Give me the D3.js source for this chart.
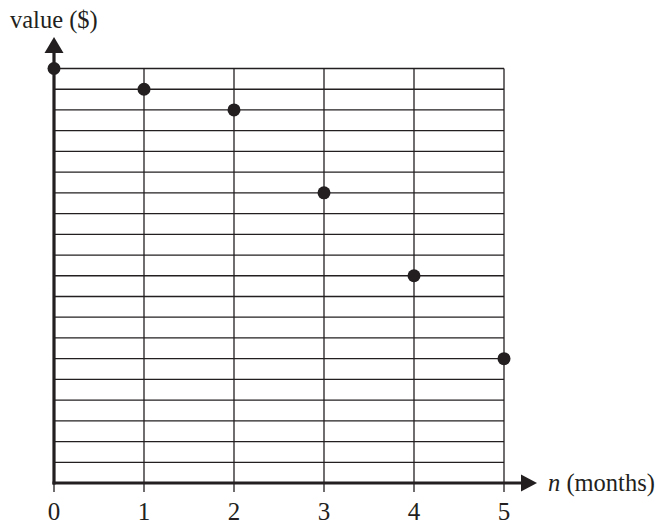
<!DOCTYPE html>
<html>
<head>
<meta charset="utf-8">
<script src="https://cdn.jsdelivr.net/npm/d3@7"></script>
<style>
    body { margin: 0; background: #fff; }
    text { font-family: "Liberation Serif", "Times New Roman", serif; fill: #231f20; }
</style>
</head>
<body>
<div id="chart"></div>
<script>
const months = [0, 1, 2, 3, 4, 5];
const values = [20, 19, 18, 14, 10, 6];   // in grid units, no scale printed
const gridLines = d3.range(0, 21);
const xLabel = 'n';
const xLabelRest = ' (months)';
const yLabel = 'value ($)';

const width = 658;
const height = 532;
const margin = { top: 68.5, left: 54, right: 154, bottom: 49 };
const ink = '#231f20';

const svg = d3.select('#chart').append('svg')
    .attr('width', width)
    .attr('height', height);

const x = d3.scaleLinear().domain([0, 5]).range([margin.left, width - margin.right]);
const y = d3.scaleLinear().domain([0, 20]).range([height - margin.bottom, margin.top]);

// horizontal grid
svg.append('g')
    .selectAll('line')
    .data(gridLines)
    .enter().append('line')
    .attr('x1', x(0))
    .attr('x2', x(5))
    .attr('y1', d => y(d))
    .attr('y2', d => y(d))
    .attr('stroke', ink)
    .attr('stroke-width', 1.3);

// vertical grid, running past the axis as ticks
svg.append('g')
    .selectAll('line')
    .data(months)
    .enter().append('line')
    .attr('x1', d => x(d))
    .attr('x2', d => x(d))
    .attr('y1', y(20))
    .attr('y2', y(0) + 9)
    .attr('stroke', ink)
    .attr('stroke-width', 1.3);

// tick labels
svg.append('g')
    .selectAll('text')
    .data(months)
    .enter().append('text')
    .attr('x', d => x(d))
    .attr('y', y(0) + 37)
    .attr('text-anchor', 'middle')
    .attr('font-size', 25)
    .text(d => d);

// axes with arrows
svg.append('line')
    .attr('x1', x(0)).attr('x2', x(0))
    .attr('y1', y(0) + 1.5).attr('y2', 50)
    .attr('stroke', ink).attr('stroke-width', 3.2);
svg.append('path')
    .attr('d', `M${x(0)},37 L${x(0) + 9.5},53 L${x(0) - 9.5},53 Z`)
    .attr('fill', ink);

svg.append('line')
    .attr('x1', x(0) - 1.5).attr('x2', 524)
    .attr('y1', y(0)).attr('y2', y(0))
    .attr('stroke', ink).attr('stroke-width', 3.2);
svg.append('path')
    .attr('d', `M537,${y(0)} L521,${y(0) - 8.5} L521,${y(0) + 8.5} Z`)
    .attr('fill', ink);

// data points
svg.append('g')
    .selectAll('circle')
    .data(months)
    .enter().append('circle')
    .attr('cx', d => x(d))
    .attr('cy', (d, i) => y(values[i]))
    .attr('r', 6.5)
    .attr('fill', ink);

// axis labels
svg.append('text')
    .attr('x', 10)
    .attr('y', 28)
    .attr('font-size', 24.5)
    .text(yLabel);

const xl = svg.append('text')
    .attr('x', 548)
    .attr('y', 491)
    .attr('font-size', 24.5);
xl.append('tspan').attr('font-style', 'italic').text(xLabel);
xl.append('tspan').text(xLabelRest);
</script>
</body>
</html>
